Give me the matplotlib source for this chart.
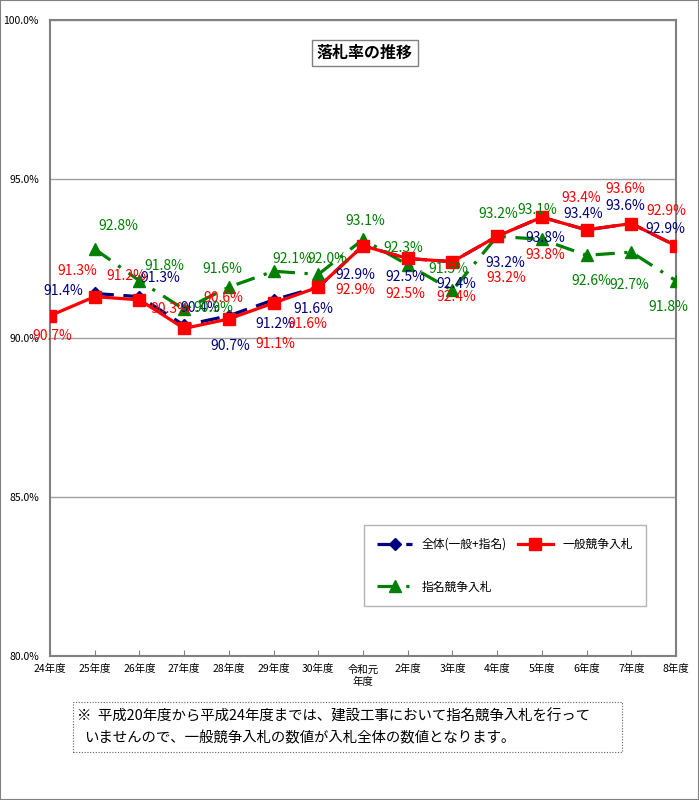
import numpy as np
import matplotlib
matplotlib.use("Agg")
import matplotlib.pyplot as plt
from matplotlib.patches import Rectangle

plt.rcParams["font.family"] = ["Noto Sans CJK JP", "DejaVu Sans"]

# data
years = ["24年度", "25年度", "26年度", "27年度", "28年度", "29年度", "30年度",
         "令和元\n年度", "2年度", "3年度", "4年度", "5年度", "6年度", "7年度", "8年度"]
zentai = [np.nan, 91.4, 91.3, 90.4, 90.7, 91.2, 91.6, 92.9,
          92.5, 92.4, 93.2, 93.8, 93.4, 93.6, 92.9]
ippan = [90.7, 91.3, 91.2, 90.3, 90.6, 91.1, 91.6, 92.9,
         92.5, 92.4, 93.2, 93.8, 93.4, 93.6, 92.9]
shimei = [np.nan, 92.8, 91.8, 90.9, 91.6, 92.1, 92.0, 93.1,
          92.3, 91.5, 93.2, 93.1, 92.6, 92.7, 91.8]

# label offsets (pixels) so the value labels sit where they do in the original
off_zentai = [None, (-31, 2), (21, 19), (16, 17), (1, -30), (2, -24), (-5, -22),
              (-8, -29), (-2, -19), (4, -22), (8, -27), (3, -21), (-3, 16),
              (-6, 18), (-11, 17)]
off_ippan = [(2, -20), (-17, 26), (-13, 24), (-14, 19), (-6, 21), (2, -41),
             (-11, -37), (-8, -44), (-2, -36), (4, -35), (9, -42), (3, -38),
             (-5, 32), (-6, 35), (-10, 35)]
off_shimei = [None, (24, 23), (25, 15), (29, 1), (-7, 18), (19, 12), (9, 15),
              (2, 18), (-4, 17), (-4, 21), (1, 22), (-5, 29), (5, -26),
              (-2, -33), (-8, -26)]

W, H = 699, 800
fig = plt.figure(figsize=(W / 100, H / 100), dpi=100)
ax = fig.add_axes([50 / W, 1 - 656 / H, (676 - 50) / W, (656 - 20) / H])

x = np.arange(len(years))
navy, red, green = "#000080", "#FF0000", "#008000"

ax.plot(x, shimei, color=green, lw=2.3, ls=(0, (6, 3, 1, 3)),
        marker="^", ms=9, zorder=3, label="指名競争入札")
ax.plot(x, zentai, color=navy, lw=2.3, ls=(0, (6, 3)),
        marker="D", ms=6, zorder=4, label="全体(一般+指名)")
ax.plot(x, ippan, color=red, lw=2.3, marker="s", ms=8, zorder=5,
        label="一般競争入札")

for vals, offs, col in [(zentai, off_zentai, navy), (ippan, off_ippan, red),
                        (shimei, off_shimei, green)]:
    for i, v in enumerate(vals):
        if np.isnan(v):
            continue
        ax.annotate("{:.1f}%".format(v), (x[i], v), xytext=offs[i],
                    textcoords="offset pixels", ha="center", va="center",
                    color=col, fontsize=10, zorder=6)

ax.set_xlim(0, len(years) - 1)
ax.set_ylim(80, 100)
ax.set_yticks([80, 85, 90, 95, 100])
ax.set_yticklabels(["{:.1f}%".format(t) for t in [80, 85, 90, 95, 100]],
                   fontsize=7.5)
ax.set_xticks(x)
ax.set_xticklabels(years, fontsize=7.5, linespacing=1.3)
ax.tick_params(axis="y", length=0, pad=8)
ax.tick_params(axis="x", direction="in", length=4, color="#808080", pad=6)
ax.grid(axis="y", color="#a0a0a0", lw=1)
for s in ax.spines.values():
    s.set_color("#808080")
    s.set_linewidth(1.5)

# title box
fig.text(365 / W, 1 - 53 / H, "落札率の推移", ha="center", va="center",
         fontsize=11.5, fontweight="bold",
         bbox=dict(boxstyle="square,pad=0.3", fc="white", ec="#808080", lw=1))

h, l = ax.get_legend_handles_labels()
order = [1, 0, 2]
leg = ax.legend([h[i] for i in order], [l[i] for i in order], ncol=2,
                loc="upper left", bbox_to_anchor=(364 / W, 1 - 525 / H),
                bbox_transform=fig.transFigure, borderaxespad=0,
                fontsize=8.5, frameon=True, fancybox=False,
                edgecolor="#a0a0a0", handlelength=3.0, handletextpad=0.8,
                labelspacing=2.5, columnspacing=0.9, borderpad=1.1)
leg.get_frame().set_linewidth(1)

# note box
fig.patches.append(Rectangle((73 / W, 1 - 752 / H), (622 - 73) / W, 50 / H,
                             transform=fig.transFigure, fill=False,
                             ec="#606060", lw=0.8, ls=(0, (1, 1.5))))
fig.text(77 / W, 1 - 716 / H,
         "※  平成20年度から平成24年度までは、建設工事において指名競争入札を行って",
         ha="left", va="center", fontsize=10.4)
fig.text(84 / W, 1 - 738 / H,
         "いませんので、一般競争入札の数値が入札全体の数値となります。",
         ha="left", va="center", fontsize=10.4)

# outer border
fig.patches.append(Rectangle((0, 0), 1, 1, transform=fig.transFigure,
                             fill=False, ec="#808080", lw=1.5))

fig.savefig("out.png", dpi=100)
